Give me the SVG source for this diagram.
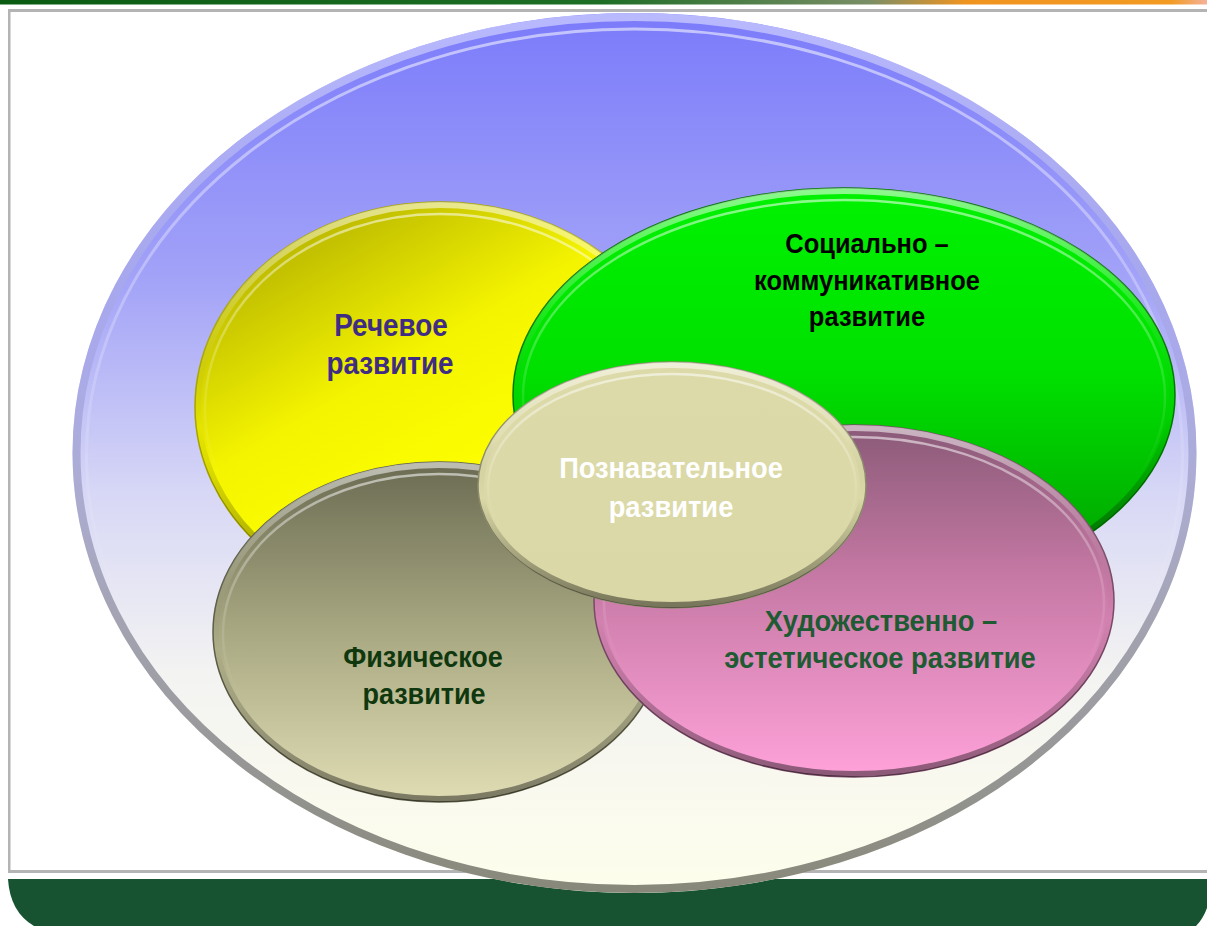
<svg xmlns="http://www.w3.org/2000/svg" width="1207" height="926" viewBox="0 0 1207 926">
  <defs>
    <linearGradient id="topBar" x1="0" y1="0" x2="1" y2="0">
      <stop offset="0" stop-color="#0b5a12"/>
      <stop offset="0.5" stop-color="#1f6e26"/>
      <stop offset="0.72" stop-color="#7a8e66"/>
      <stop offset="0.8" stop-color="#f09420"/>
      <stop offset="0.97" stop-color="#f29a22"/>
      <stop offset="1" stop-color="#f4b29a"/>
    </linearGradient>
    <linearGradient id="gBig" x1="0" y1="0" x2="0" y2="1">
      <stop offset="0" stop-color="#7b7bfb"/>
      <stop offset="0.3" stop-color="#a2a2f8"/>
      <stop offset="0.55" stop-color="#d8d8f6"/>
      <stop offset="0.75" stop-color="#f3f3f2"/>
      <stop offset="1" stop-color="#fefeec"/>
    </linearGradient>
    <linearGradient id="gYellow" x1="0.15" y1="0.05" x2="0.6" y2="0.7">
      <stop offset="0" stop-color="#b3b000"/>
      <stop offset="0.55" stop-color="#f4f400"/>
      <stop offset="1" stop-color="#ffff00"/>
    </linearGradient>
    <linearGradient id="gGreen" x1="0" y1="0" x2="0" y2="1">
      <stop offset="0" stop-color="#00f200"/>
      <stop offset="0.45" stop-color="#00e000"/>
      <stop offset="1" stop-color="#009600"/>
    </linearGradient>
    <linearGradient id="gPink" x1="0" y1="0" x2="0" y2="1">
      <stop offset="0" stop-color="#8a5a78"/>
      <stop offset="0.45" stop-color="#c87aa6"/>
      <stop offset="1" stop-color="#ffa2da"/>
    </linearGradient>
    <linearGradient id="gOlive" x1="0" y1="0" x2="0" y2="1">
      <stop offset="0" stop-color="#6b6b53"/>
      <stop offset="0.5" stop-color="#a8a882"/>
      <stop offset="1" stop-color="#e0ddb4"/>
    </linearGradient>
    <linearGradient id="gCenter" x1="0" y1="0" x2="0" y2="1">
      <stop offset="0" stop-color="#dcdaa8"/>
      <stop offset="1" stop-color="#dad8a6"/>
    </linearGradient>
    <linearGradient id="rim" x1="0" y1="0" x2="0" y2="1">
      <stop offset="0" stop-color="#ffffff" stop-opacity="0.55"/>
      <stop offset="0.3" stop-color="#ffffff" stop-opacity="0.12"/>
      <stop offset="0.55" stop-color="#000000" stop-opacity="0"/>
      <stop offset="1" stop-color="#000000" stop-opacity="0.45"/>
    </linearGradient>
    <linearGradient id="hlGrad" x1="0" y1="0" x2="0" y2="1">
      <stop offset="0" stop-color="#ffffff" stop-opacity="0.55"/>
      <stop offset="0.45" stop-color="#ffffff" stop-opacity="0.15"/>
      <stop offset="0.7" stop-color="#ffffff" stop-opacity="0"/>
    </linearGradient>
    <linearGradient id="rimBig" x1="0" y1="0" x2="0" y2="1">
      <stop offset="0" stop-color="#c8c8ff" stop-opacity="0.8"/>
      <stop offset="0.4" stop-color="#a0a0e0" stop-opacity="0.6"/>
      <stop offset="0.7" stop-color="#9090a0" stop-opacity="0.8"/>
      <stop offset="1" stop-color="#88887a" stop-opacity="1"/>
    </linearGradient>
  </defs>
  <style>
    .lbl { font-family: "Liberation Sans", Arial, sans-serif; font-weight: bold; font-size: 30px; text-anchor: middle; }
    .rim { fill: none; stroke: url(#rim); stroke-width: 6; }
    .hl { fill: none; stroke: url(#hlGrad); stroke-width: 2.5; }
  </style>

  <rect x="0" y="0" width="1207" height="926" fill="#ffffff"/>

  <g id="frame">
    <rect x="0" y="0" width="1207" height="4.5" fill="url(#topBar)"/>
    <rect x="8" y="9" width="1199" height="3" fill="#b4b4b4"/>
    <rect x="8" y="9" width="2.5" height="864" fill="#b4b4b4"/>
    <rect x="8" y="870" width="1199" height="3" fill="#b4b4b4"/>
    <path d="M8,879 H1207 V908 Q1203,919 1196,926 H34 Q10,912 8,879 Z" fill="#175231"/>
  </g>

  <g id="outer">
    <ellipse cx="634.5" cy="453" rx="562" ry="440" fill="url(#gBig)"/>
    <ellipse cx="634.5" cy="453" rx="558" ry="436" fill="none" stroke="url(#rimBig)" stroke-width="8"/>
    <ellipse cx="634.5" cy="455" rx="548" ry="426" fill="none" stroke="url(#hlGrad)" stroke-width="3"/>
  </g>

  <g id="speech">
    <ellipse cx="440" cy="407" rx="245" ry="205" fill="url(#gYellow)" stroke="#a9a600" stroke-width="1.5"/>
    <ellipse cx="440" cy="407" rx="242" ry="202" class="rim"/>
    <ellipse cx="440" cy="409" rx="235" ry="195" class="hl"/>
    <text class="lbl" style="font-size:32px" transform="translate(391 336) scale(0.87 1)" fill="#3f2d84">Речевое</text>
    <text class="lbl" style="font-size:32px" transform="translate(390 374) scale(0.87 1)" fill="#3f2d84">развитие</text>
  </g>

  <g id="social">
    <ellipse cx="844" cy="395" rx="331" ry="207" fill="url(#gGreen)" stroke="#007a00" stroke-width="1.5"/>
    <ellipse cx="844" cy="395" rx="328" ry="204" class="rim"/>
    <ellipse cx="844" cy="397" rx="321" ry="197" class="hl"/>
    <text class="lbl" style="font-size:28px" transform="translate(867 253) scale(0.91 1)" fill="#000000">Социально –</text>
    <text class="lbl" style="font-size:28px" transform="translate(867 290) scale(0.91 1)" fill="#000000">коммуникативное</text>
    <text class="lbl" style="font-size:28px" transform="translate(867 326) scale(0.91 1)" fill="#000000">развитие</text>
  </g>

  <g id="physical">
    <ellipse cx="439" cy="632" rx="226" ry="170" fill="url(#gOlive)" stroke="#5e5e48" stroke-width="1.5"/>
    <ellipse cx="439" cy="632" rx="223" ry="167" class="rim"/>
    <ellipse cx="439" cy="634" rx="216" ry="160" class="hl"/>
    <text class="lbl" transform="translate(423 667) scale(0.9 1)" fill="#10380f">Физическое</text>
    <text class="lbl" transform="translate(424 704) scale(0.9 1)" fill="#10380f">развитие</text>
  </g>

  <g id="artistic">
    <ellipse cx="854" cy="601" rx="260" ry="176" fill="url(#gPink)" stroke="#7a4a66" stroke-width="1.5"/>
    <ellipse cx="854" cy="601" rx="257" ry="173" class="rim"/>
    <ellipse cx="854" cy="603" rx="250" ry="166" class="hl"/>
    <text class="lbl" transform="translate(881 631) scale(0.91 1)" fill="#1e5a32">Художественно –</text>
    <text class="lbl" transform="translate(880 668) scale(0.91 1)" fill="#1e5a32">эстетическое развитие</text>
  </g>

  <g id="cognitive">
    <ellipse cx="672" cy="485" rx="194" ry="123" fill="url(#gCenter)" stroke="#8c8c6c" stroke-width="1.5"/>
    <ellipse cx="672" cy="485" rx="191" ry="120" class="rim"/>
    <ellipse cx="672" cy="487" rx="184" ry="113" class="hl"/>
    <text class="lbl" transform="translate(671 478) scale(0.91 1)" fill="#ffffff">Познавательное</text>
    <text class="lbl" transform="translate(671 517) scale(0.91 1)" fill="#ffffff">развитие</text>
  </g>

  <g id="connectors"></g>
</svg>
